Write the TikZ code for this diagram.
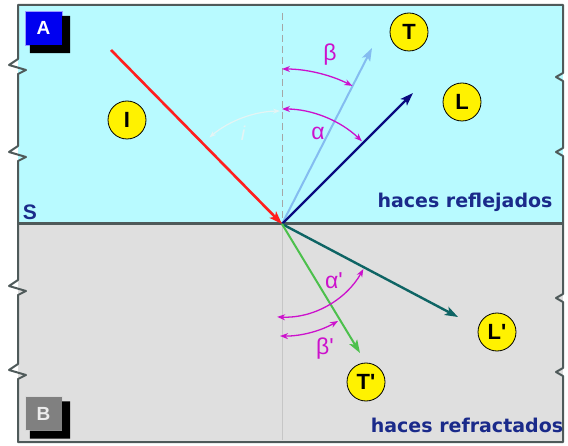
\documentclass[tikz,border=0pt]{standalone}
\usepackage{fontspec}
\setmainfont{Liberation Sans}
\newfontfamily\widesans{DejaVu Sans}
\usetikzlibrary{arrows.meta, calc}
\definecolor{upCyan}{HTML}{B8FAFF}
\definecolor{lowGrey}{HTML}{DFDFDF}
\definecolor{rimGrey}{HTML}{4F5A5A}
\definecolor{rayRed}{HTML}{FF1E1E}
\definecolor{raySky}{HTML}{84BCF0}
\definecolor{rayNavy}{HTML}{0A0A80}
\definecolor{rayTeal}{HTML}{0E6464}
\definecolor{rayGreen}{HTML}{4CC04C}
\definecolor{angMag}{HTML}{CC11CC}
\definecolor{txtNavy}{HTML}{1A2A8A}
\definecolor{boxBlue}{HTML}{0000F0}
\definecolor{faintArc}{HTML}{E4F4F4}
\newcommand{\tick}{\textquotesingle}
\tikzset{
  rimline/.style   = {rimGrey, line width=2pt, line join=round},
  rayline/.style   = {line width=2.4pt, -{Stealth[length=13pt, width=9pt, inset=3pt]}},
  angarc/.style    = {angMag, line width=1.3pt,
                      {Stealth[length=8pt, width=6pt]}-{Stealth[length=8pt, width=6pt]}},
  wavedot/.style   = {circle, draw=black, line width=0.8pt, fill=yellow, minimum size=38pt,
                      inner sep=0pt, font=\bfseries\fontsize{22}{22}\selectfont},
  glbl/.style      = {angMag, font=\fontsize{23}{23}\selectfont},
  zonebox/.style   = {minimum width=37pt, minimum height=34pt, inner sep=0pt,
                      font=\bfseries\fontsize{19}{19}\selectfont},
  hacestxt/.style  = {txtNavy, anchor=base, inner sep=0pt,
                      font=\widesans\bfseries\fontsize{19}{19}\selectfont},
}

\begin{document}
\begin{tikzpicture}[x=1pt,y=1pt]
  \useasboundingbox (0,0) rectangle (568,445);
  % media
  \fill[upCyan] (18,221) rectangle (563,440);
  \fill[lowGrey] (18,3) rectangle (563,221);
  \draw[rimline] (18,440) -- (18,386) -- (9,380) -- (26,375) -- (18,371) -- (18,299) -- (9,293)
    -- (26,288) -- (18,284) -- (18,165) -- (9,159) -- (26,154) -- (18,150) -- (18,81) -- (9,75)
    -- (26,70) -- (18,66) -- (18,3) -- (563,3) -- (563,69) -- (556,73) -- (563,77) -- (563,143)
    -- (556,147) -- (563,151) -- (563,289) -- (556,293) -- (563,297) -- (563,364) -- (556,368)
    -- (563,372) -- (563,440) -- cycle;
  \draw[rimGrey, line width=3pt] (18,221) -- (563,221);
  \coordinate (O) at (282,221);
  % normal
  \draw[gray!70, line width=1pt, dash pattern=on 7pt off 4pt] (282,432) -- (O);
  \draw[gray!45, line width=0.8pt] (O) -- (282,5);
  % zone boxes
  \node[zonebox, fill=boxBlue, draw=blue!40, text=white] (boxA) at (43.5,417) {A};
  \node[zonebox, fill=gray, draw=gray!30, text=gray!15] (boxB) at (43.5,31.5) {B};
  \fill[black] ($(boxA.south west)+(5,-8)$) -- ($(boxA.south east)+(8,-8)$) -- ($(boxA.north east)+(8,-5)$)
    -- ($(boxA.north east)+(0,-5)$) -- (boxA.south east) -- ($(boxA.south west)+(5,0)$) -- cycle;
  \fill[black] ($(boxB.south west)+(5,-8)$) -- ($(boxB.south east)+(8,-8)$) -- ($(boxB.north east)+(8,-5)$)
    -- ($(boxB.north east)+(0,-5)$) -- (boxB.south east) -- ($(boxB.south west)+(5,0)$) -- cycle;
  \node[txtNavy, font=\bfseries\fontsize{21}{21}\selectfont, anchor=base] (sLbl) at (30,225) {S};
  % faint incidence angle
  \draw[faintArc, line width=1.2pt, {Stealth[length=7pt, width=5pt]}-{Stealth[length=7pt, width=5pt]}]
    ($(O)+(91:113)$) arc[start angle=91, end angle=130, radius=113];
  \node[faintArc, font=\itshape\fontsize{20}{20}\selectfont] (iLbl) at (243,312) {i};
  % rays
  \coordinate (incA) at (111,395);
  \coordinate (tEnd) at (372,397);
  \coordinate (lEnd) at (413,352);
  \coordinate (lpEnd) at (458,128);
  \coordinate (tpEnd) at (360,92);
  \draw[rayline, raySky, line width=2pt] (O) -- (tEnd);
  \draw[rayline, rayNavy] (O) -- (lEnd);
  \draw[rayline, rayTeal] (O) -- (lpEnd);
  \draw[rayline, rayGreen, line width=2pt] (O) -- (tpEnd);
  \draw[rayline, rayRed, line width=2.6pt] (incA) -- (O);
  % angles
  \draw[angarc] ($(O)+(90:155)$) arc[start angle=90, end angle=63, radius=155];
  \draw[angarc] ($(O)+(90:115)$) arc[start angle=90, end angle=46, radius=115];
  \draw[angarc] ($(O)+(-29:93)$) arc[start angle=-29, end angle=-93, radius=93];
  \draw[angarc] ($(O)+(-91:112)$) arc[start angle=-91, end angle=-60, radius=112];
  \node[glbl] (bLbl) at (330,390) {β};
  \node[glbl] (aLbl) at (318,312) {α};
  \node[glbl] (apLbl) at (334,164) {α\tick};
  \node[glbl] (bpLbl) at (325,96) {β\tick};
  % wave labels
  \node[wavedot] (cI) at (127,325) {I};
  \node[wavedot] (cT) at (409,413) {T};
  \node[wavedot] (cL) at (462,343) {L};
  \node[wavedot] (cLp) at (497,113) {L\tick};
  \node[wavedot] (cTp) at (366,63) {T\tick};
  \node[hacestxt] (reflTxt) at (465,237) {haces reflejados};
  \node[hacestxt] (refrTxt) at (467,13) {haces refractados};
\end{tikzpicture}
\end{document}
